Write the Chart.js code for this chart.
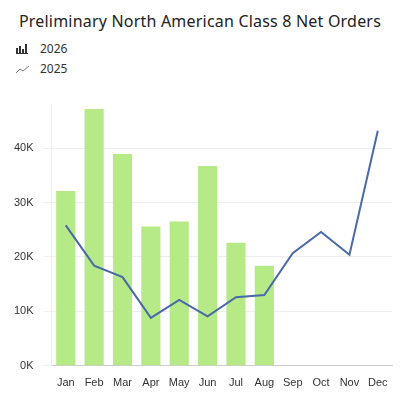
<!DOCTYPE html>
<html><head>
<script src="https://cdn.jsdelivr.net/npm/chart.js@4"></script>
<style>
body{margin:0;width:400px;height:400px;font-family:"Noto Sans",sans-serif;background:#fff;position:relative}
h1{margin:0;position:absolute;top:10px;left:0;width:400px;text-align:center;font-size:16px;font-weight:400;color:#222;letter-spacing:0.2px}
.leg{position:absolute;left:16px;font-size:12px;color:#333}
.leg span{display:inline-block;width:16px;margin-right:8px;vertical-align:middle}
#wrap{position:absolute;left:0;top:88px;width:400px;height:305px}
</style></head><body>
<h1>Preliminary North American Class 8 Net Orders</h1>
<div class="leg" style="top:40px"><span><svg width="14" height="10"><rect x="0" y="4" width="2" height="6" fill="#333"/><rect x="3" y="2" width="2" height="8" fill="#333"/><rect x="6" y="5" width="2" height="5" fill="#333"/><rect x="9" y="0" width="2" height="10" fill="#333"/><rect x="0" y="9" width="12" height="1" fill="#333"/></svg></span>2026</div>
<div class="leg" style="top:60px"><span><svg width="14" height="10"><polyline points="0,9 4,5 7,7 13,2" fill="none" stroke="#777" stroke-width="1"/></svg></span>2025</div>
<div id="wrap"><canvas id="c"></canvas></div>
<script>
const months = ['Jan','Feb','Mar','Apr','May','Jun','Jul','Aug','Sep','Oct','Nov','Dec'];
const orders2026 = [32.1,47.2,38.9,25.6,26.5,36.7,22.6,18.4,null,null,null,null];
const orders2025 = [25.8,18.4,16.3,8.8,12.1,9.1,12.6,13.0,20.7,24.6,20.4,43.2];
const yTicks = [0,10,20,30,40];
new Chart(document.getElementById('c'), {
  data: {
    labels: months,
    datasets: [
      {type:'line', label:'2025', data:orders2025, borderColor:'#4a69a8', borderWidth:2, pointRadius:0, tension:0},
      {type:'bar', label:'2026', data:orders2026, backgroundColor:'#b5ea87', categoryPercentage:0.9, barPercentage:0.75}
    ]
  },
  options: {
    responsive:true, maintainAspectRatio:false, animation:false,
    layout:{padding:{left:4,right:8}},
    plugins:{legend:{display:false}},
    scales:{
      x:{grid:{display:false}, border:{color:'#ccc'}, ticks:{color:'#333', font:{size:11}}},
      y:{min:0, max:48, afterBuildTicks:s=>{s.ticks=yTicks.map(v=>({value:v}));},
         ticks:{color:'#333', font:{size:11}, padding:10, callback:v=>v+'K'},
         grid:{color:'#eee'}, border:{color:'#eee'}}
    }
  }
});
</script>
</body></html>
